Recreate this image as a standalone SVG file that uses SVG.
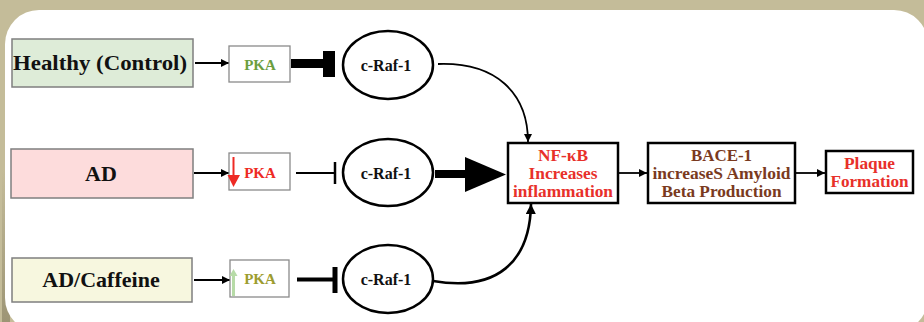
<svg xmlns="http://www.w3.org/2000/svg" width="924" height="322" viewBox="0 0 924 322">
<style>
  text{font-family:'Liberation Serif','Times New Roman','DejaVu Serif',serif;font-weight:bold;text-anchor:middle}
  .lbl{font-size:22px;fill:#111}
  .pka{font-size:15px}
  .raf{font-size:16px;fill:#111}
  .big{stroke:#7f7f7f;stroke-width:1.5}
  .g1{fill:#deecd8}
  .g2{fill:#fddcdc}
  .g3{fill:#f7f7df}
  .pbox{fill:#fff;stroke:#8a8a8a;stroke-width:1.3}
  .ell{fill:#fff;stroke:#000;stroke-width:2.5}
  .out{fill:#fff;stroke:#000;stroke-width:2.5}
  .red{fill:#e8302a;font-size:16px}
  .brn{fill:#7a3a1e;font-size:16px}
  .ln{stroke:#000;fill:none}
</style>
<defs>
  <marker id="arr" viewBox="0 0 10 10" refX="10" refY="5" markerWidth="9" markerHeight="8" markerUnits="userSpaceOnUse" orient="auto">
    <path d="M0,0 L10,5 L0,10 z" fill="#000"/>
  </marker>
  <marker id="arr2" viewBox="0 0 10 10" refX="10" refY="5" markerWidth="11" markerHeight="10" markerUnits="userSpaceOnUse" orient="auto">
    <path d="M0,0 L10,5 L0,10 z" fill="#000"/>
  </marker>
  <linearGradient id="sh" x1="0" y1="0" x2="0" y2="1">
    <stop offset="0" stop-color="#c4bc99"/>
    <stop offset="1" stop-color="#8c8466"/>
  </linearGradient>
</defs>
<rect x="0" y="0" width="924" height="322" fill="#c4bc99"/>
<path d="M2,170 L10,170 L10,322 L2,322 z" fill="url(#sh)" opacity="0.7"/>
<rect x="5" y="10" width="923" height="322" rx="34" ry="34" fill="#fff"/>

<g id="connectors">
  <line class="ln" x1="195" y1="63" x2="229" y2="63" stroke-width="1.8" marker-end="url(#arr)"/>
  <line class="ln" x1="194" y1="173" x2="229" y2="173" stroke-width="1.8" marker-end="url(#arr)"/>
  <line class="ln" x1="194" y1="280" x2="230" y2="280" stroke-width="1.8" marker-end="url(#arr)"/>
  <rect x="291" y="59" width="33" height="9" fill="#000"/>
  <rect x="323" y="51" width="12" height="26" fill="#000"/>
  <line class="ln" x1="296" y1="173" x2="335" y2="173" stroke-width="1.8"/>
  <line class="ln" x1="335" y1="162" x2="335" y2="184" stroke-width="2.5"/>
  <line class="ln" x1="297" y1="279.5" x2="334" y2="279.5" stroke-width="4"/>
  <rect x="332.5" y="267" width="5" height="26" fill="#000"/>
  <path class="ln" d="M438,64 C495,62 528,92 528,142" stroke-width="1.8" marker-end="url(#arr)"/>
  <rect x="435" y="170" width="31" height="8" fill="#000"/>
  <polygon points="465,157 465,192 506,174.5" fill="#000"/>
  <path class="ln" d="M433,281 C497,292 530,262 531,204" stroke-width="2.6" marker-end="url(#arr2)"/>
  <line class="ln" x1="618" y1="173" x2="647" y2="173" stroke-width="1.8" marker-end="url(#arr)"/>
  <line class="ln" x1="795" y1="173" x2="825" y2="173" stroke-width="1.8" marker-end="url(#arr)"/>
</g>

<g id="healthy">
  <rect class="big g1" x="12" y="39" width="181" height="48"/>
  <text class="lbl" x="100" y="70" textLength="174" lengthAdjust="spacingAndGlyphs">Healthy (Control)</text>
</g>
<g id="ad">
  <rect class="big g2" x="11" y="149" width="182" height="49"/>
  <text class="lbl" x="101" y="181">AD</text>
</g>
<g id="adcaffeine">
  <rect class="big g3" x="12" y="258" width="180" height="44"/>
  <text class="lbl" x="101" y="287">AD/Caffeine</text>
</g>

<g id="pka1">
  <rect class="pbox" x="229" y="46" width="61" height="36"/>
  <text class="pka" x="260" y="70" fill="#6b9e3f">PKA</text>
</g>
<g id="pka2">
  <rect class="pbox" x="229" y="153" width="61" height="37"/>
  <line x1="233.5" y1="157" x2="233.5" y2="177" stroke="#ee2a24" stroke-width="2"/>
  <polygon points="227.5,175 240,175 233.5,187" fill="#ee2a24"/>
  <text class="pka" x="260" y="178" fill="#ee2a24">PKA</text>
</g>
<g id="pka3">
  <rect class="pbox" x="230" y="260" width="59" height="37"/>
  <line x1="233.5" y1="274" x2="233.5" y2="296" stroke="#b7dba7" stroke-width="3"/>
  <polygon points="229.5,276 237.5,276 233.5,269" fill="#b7dba7"/>
  <text class="pka" x="260" y="284" fill="#9c9c30">PKA</text>
</g>

<g id="craf1">
  <ellipse class="ell" cx="388" cy="65" rx="45" ry="34"/>
  <text class="raf" x="386" y="70.5">c-Raf-1</text>
</g>
<g id="craf2">
  <ellipse class="ell" cx="388" cy="172.5" rx="45" ry="33.5"/>
  <text class="raf" x="386" y="178.5">c-Raf-1</text>
</g>
<g id="craf3">
  <ellipse class="ell" cx="388" cy="279" rx="45" ry="34"/>
  <text class="raf" x="386" y="284.5">c-Raf-1</text>
</g>

<g id="nfkb">
  <rect class="out" x="508" y="143" width="110" height="60"/>
  <text class="red" x="563" y="160.5" textLength="50" lengthAdjust="spacingAndGlyphs">NF-κB</text>
  <text class="red" x="563" y="178.5" textLength="69" lengthAdjust="spacingAndGlyphs">Increases</text>
  <text class="red" x="563" y="197" textLength="100" lengthAdjust="spacingAndGlyphs">inflammation</text>
</g>
<g id="bace1">
  <rect class="out" x="648" y="143" width="147" height="60"/>
  <text class="brn" x="721.5" y="160.5" textLength="61" lengthAdjust="spacingAndGlyphs">BACE-1</text>
  <text class="brn" x="721.5" y="178.5" textLength="138" lengthAdjust="spacingAndGlyphs">increaseS Amyloid</text>
  <text class="brn" x="721.5" y="196.5" textLength="120" lengthAdjust="spacingAndGlyphs">Beta Production</text>
</g>
<g id="plaque">
  <rect class="out" x="826" y="151" width="87" height="42"/>
  <text class="red" x="869.5" y="168.5" textLength="51" lengthAdjust="spacingAndGlyphs">Plaque</text>
  <text class="red" x="869.5" y="186.5" textLength="78" lengthAdjust="spacingAndGlyphs">Formation</text>
</g>
</svg>
